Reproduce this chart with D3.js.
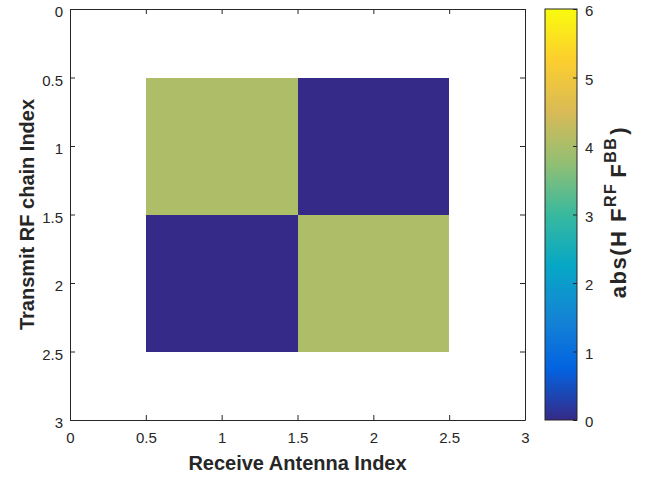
<!DOCTYPE html>
<html><head><meta charset="utf-8">
<script src="https://cdn.jsdelivr.net/npm/d3@7"></script>
<style>body{margin:0;background:#fff}svg{display:block}text{font-family:"Liberation Sans",Arial,Helvetica,sans-serif}</style>
</head><body>
<svg id="c" width="657" height="477"></svg>
<script>
// Data
const rxIndex = [1, 2];            // Receive Antenna Index (columns)
const txIndex = [1, 2];            // Transmit RF chain Index (rows)
const values = [[4.05, 0.0],
                [0.0, 4.05]];      // abs(H F^RF F^BB)
const axisTicks = [0, 0.5, 1, 1.5, 2, 2.5, 3];
const cbarTicks = [0, 1, 2, 3, 4, 5, 6];
const parulaStops = ["#352a87","#0363e1","#1485d4","#06a7c6","#38b99e","#92bf73","#d9ba56","#fcce2e","#f9fb0e"];

const svg = d3.select("#c");
const L = 70, R = 525, T = 9, B = 420;
const x = d3.scaleLinear().domain([0, 3]).range([L, R]);
const y = d3.scaleLinear().domain([0, 3]).range([T, B]);
const interp = d3.piecewise(d3.interpolateRgb, parulaStops);
const color = d3.scaleSequential(interp).domain([0, 6]);

// cells
const cells = [];
txIndex.forEach((r, i) => rxIndex.forEach((c, j) => cells.push({r, c, v: values[i][j]})));
svg.append("g").selectAll("rect").data(cells).join("rect")
  .attr("x", d => x(d.c - 0.5)).attr("y", d => y(d.r - 0.5))
  .attr("width", d => x(d.c + 0.5) - x(d.c - 0.5))
  .attr("height", d => y(d.r + 0.5) - y(d.r - 0.5))
  .attr("fill", d => color(d.v)).attr("shape-rendering", "crispEdges");

const tc = "#262626";
const fs = 15;
function styleAxis(g) {
  g.selectAll("path.domain").attr("stroke", tc).attr("stroke-width", 1);
  g.selectAll(".tick line").attr("stroke", tc);
  g.selectAll(".tick text").attr("fill", tc).attr("font-size", fs);
}
const fmt = d3.format("");
svg.append("g").attr("transform", `translate(0,${B})`)
  .call(d3.axisBottom(x).tickValues(axisTicks).tickFormat(fmt).tickSizeInner(-5).tickSizeOuter(0).tickPadding(12))
  .call(styleAxis);
svg.append("g").attr("transform", `translate(0,${T})`)
  .call(d3.axisTop(x).tickValues(axisTicks).tickFormat("").tickSizeInner(-5).tickSizeOuter(0))
  .call(styleAxis);
svg.append("g").attr("transform", `translate(${L},0)`)
  .call(d3.axisLeft(y).tickValues(axisTicks).tickFormat(fmt).tickSizeInner(-5).tickSizeOuter(0).tickPadding(7))
  .call(styleAxis)
  .call(g => g.selectAll(".tick text").attr("dy", "0.5em"));
svg.append("g").attr("transform", `translate(${R},0)`)
  .call(d3.axisRight(y).tickValues(axisTicks).tickFormat("").tickSizeInner(-5).tickSizeOuter(0))
  .call(styleAxis);

svg.append("text").attr("x", (L + R) / 2).attr("y", 470).attr("text-anchor", "middle")
  .attr("font-size", 20).attr("font-weight", "bold").attr("fill", tc).text("Receive Antenna Index");
svg.append("text").attr("transform", `translate(34,${(T + B) / 2}) rotate(-90)`).attr("text-anchor", "middle")
  .attr("font-size", 20).attr("font-weight", "bold").attr("fill", tc).text("Transmit RF chain Index");

// colorbar
const cbL = 545, cbR = 577;
const cy = d3.scaleLinear().domain([0, 6]).range([B, T]);
const defs = svg.append("defs");
const grad = defs.append("linearGradient").attr("id", "pg").attr("x1", 0).attr("y1", 1).attr("x2", 0).attr("y2", 0);
d3.range(0, 65).forEach(i => grad.append("stop").attr("offset", i / 64).attr("stop-color", color(i / 64 * 6)));
svg.append("rect").attr("x", cbL).attr("y", T).attr("width", cbR - cbL).attr("height", B - T).attr("fill", "url(#pg)");
svg.append("rect").attr("x", cbL).attr("y", T).attr("width", cbR - cbL).attr("height", B - T)
  .attr("fill", "none").attr("stroke", tc).attr("stroke-width", 1);
svg.append("g").attr("transform", `translate(${cbR},0)`)
  .call(d3.axisRight(cy).tickValues(cbarTicks).tickFormat(fmt).tickSizeInner(-4).tickSizeOuter(0).tickPadding(8))
  .call(styleAxis).call(g => g.select("path.domain").remove())
  .call(g => g.selectAll(".tick text").attr("dy", "0.45em"));

const ct = svg.append("text").attr("transform", `translate(626,212) rotate(-90)`).attr("text-anchor", "middle")
  .attr("font-size", 22).attr("font-weight", "bold").attr("fill", tc).attr("letter-spacing", 1.5);
ct.append("tspan").text("abs(H ");
ct.append("tspan").text("F");
ct.append("tspan").attr("dy", -10).attr("font-size", 16).text("RF");
ct.append("tspan").attr("dy", 10).attr("dx", 5).text("F");
ct.append("tspan").attr("dy", -10).attr("font-size", 16).text("BB");
ct.append("tspan").attr("dy", 10).attr("dx", 2).text(")");
</script>
</body></html>
